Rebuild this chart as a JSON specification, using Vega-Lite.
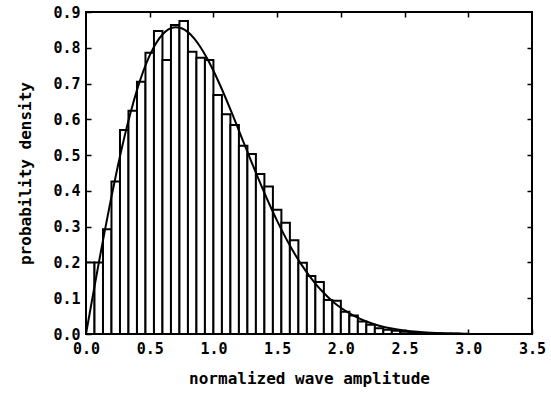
{
  "$schema": "https://vega.github.io/schema/vega-lite/v6.json",
  "width": 446,
  "height": 322,
  "autosize": {"type": "none"},
  "padding": {"left": 86, "top": 12, "right": 19, "bottom": 73},
  "background": "white",
  "config": {
    "view": {"stroke": "black", "strokeWidth": 2},
    "axis": {
      "grid": false,
      "domain": false,
      "tickColor": "black",
      "tickWidth": 1.5,
      "tickSize": -5,
      "labelFlush": false,
      "labelOverlap": false,
      "labelFont": "DejaVu Sans Mono",
      "labelFontWeight": "bold",
      "labelFontSize": 15,
      "labelColor": "black",
      "titleFont": "DejaVu Sans Mono",
      "titleFontWeight": "bold",
      "titleFontSize": 16,
      "titleColor": "black"
    }
  },
  "datasets": {
    "bars": [
      {"x0": 0.0, "x1": 0.0667, "density": 0.2},
      {"x0": 0.0667, "x1": 0.1333, "density": 0.2},
      {"x0": 0.1333, "x1": 0.2, "density": 0.293},
      {"x0": 0.2, "x1": 0.2667, "density": 0.426},
      {"x0": 0.2667, "x1": 0.3333, "density": 0.57},
      {"x0": 0.3333, "x1": 0.4, "density": 0.624},
      {"x0": 0.4, "x1": 0.4667, "density": 0.705},
      {"x0": 0.4667, "x1": 0.5333, "density": 0.786},
      {"x0": 0.5333, "x1": 0.6, "density": 0.847},
      {"x0": 0.6, "x1": 0.6667, "density": 0.766},
      {"x0": 0.6667, "x1": 0.7333, "density": 0.864},
      {"x0": 0.7333, "x1": 0.8, "density": 0.875},
      {"x0": 0.8, "x1": 0.8667, "density": 0.789},
      {"x0": 0.8667, "x1": 0.9333, "density": 0.772},
      {"x0": 0.9333, "x1": 1.0, "density": 0.766},
      {"x0": 1.0, "x1": 1.0667, "density": 0.668},
      {"x0": 1.0667, "x1": 1.1333, "density": 0.614},
      {"x0": 1.1333, "x1": 1.2, "density": 0.584},
      {"x0": 1.2, "x1": 1.2667, "density": 0.526},
      {"x0": 1.2667, "x1": 1.3333, "density": 0.503},
      {"x0": 1.3333, "x1": 1.4, "density": 0.447},
      {"x0": 1.4, "x1": 1.4667, "density": 0.412},
      {"x0": 1.4667, "x1": 1.5333, "density": 0.347},
      {"x0": 1.5333, "x1": 1.6, "density": 0.311},
      {"x0": 1.6, "x1": 1.6667, "density": 0.262},
      {"x0": 1.6667, "x1": 1.7333, "density": 0.199},
      {"x0": 1.7333, "x1": 1.8, "density": 0.162},
      {"x0": 1.8, "x1": 1.8667, "density": 0.145},
      {"x0": 1.8667, "x1": 1.9333, "density": 0.095},
      {"x0": 1.9333, "x1": 2.0, "density": 0.093},
      {"x0": 2.0, "x1": 2.0667, "density": 0.062},
      {"x0": 2.0667, "x1": 2.1333, "density": 0.052},
      {"x0": 2.1333, "x1": 2.2, "density": 0.035},
      {"x0": 2.2, "x1": 2.2667, "density": 0.026},
      {"x0": 2.2667, "x1": 2.3333, "density": 0.016},
      {"x0": 2.3333, "x1": 2.4, "density": 0.012},
      {"x0": 2.4, "x1": 2.4667, "density": 0.009},
      {"x0": 2.4667, "x1": 2.5333, "density": 0.006},
      {"x0": 2.5333, "x1": 2.6, "density": 0.004},
      {"x0": 2.6, "x1": 2.6667, "density": 0.003},
      {"x0": 2.6667, "x1": 2.7333, "density": 0.002},
      {"x0": 2.7333, "x1": 2.8, "density": 0.0015},
      {"x0": 2.8, "x1": 2.8667, "density": 0.001},
      {"x0": 2.8667, "x1": 2.9333, "density": 0.001}
    ],
    "curve": [
      {"x": 0.0, "y": 0.0},
      {"x": 0.05, "y": 0.0998},
      {"x": 0.1, "y": 0.198},
      {"x": 0.15, "y": 0.2933},
      {"x": 0.2, "y": 0.3843},
      {"x": 0.25, "y": 0.4697},
      {"x": 0.3, "y": 0.5483},
      {"x": 0.35, "y": 0.6193},
      {"x": 0.4, "y": 0.6817},
      {"x": 0.45, "y": 0.7351},
      {"x": 0.5, "y": 0.7788},
      {"x": 0.55, "y": 0.8129},
      {"x": 0.6, "y": 0.8372},
      {"x": 0.65, "y": 0.852},
      {"x": 0.7, "y": 0.8577},
      {"x": 0.75, "y": 0.8547},
      {"x": 0.8, "y": 0.8437},
      {"x": 0.85, "y": 0.8255},
      {"x": 0.9, "y": 0.8008},
      {"x": 0.95, "y": 0.7706},
      {"x": 1.0, "y": 0.7358},
      {"x": 1.05, "y": 0.6974},
      {"x": 1.1, "y": 0.6561},
      {"x": 1.15, "y": 0.6129},
      {"x": 1.2, "y": 0.5686},
      {"x": 1.25, "y": 0.524},
      {"x": 1.3, "y": 0.4797},
      {"x": 1.35, "y": 0.4363},
      {"x": 1.4, "y": 0.3944},
      {"x": 1.45, "y": 0.3542},
      {"x": 1.5, "y": 0.3162},
      {"x": 1.55, "y": 0.2805},
      {"x": 1.6, "y": 0.2474},
      {"x": 1.65, "y": 0.2168},
      {"x": 1.7, "y": 0.1889},
      {"x": 1.75, "y": 0.1637},
      {"x": 1.8, "y": 0.141},
      {"x": 1.85, "y": 0.1208},
      {"x": 1.9, "y": 0.1028},
      {"x": 1.95, "y": 0.0869},
      {"x": 2.0, "y": 0.0733},
      {"x": 2.1, "y": 0.0511},
      {"x": 2.2, "y": 0.0348},
      {"x": 2.3, "y": 0.0232},
      {"x": 2.4, "y": 0.0151},
      {"x": 2.5, "y": 0.0097},
      {"x": 2.6, "y": 0.006},
      {"x": 2.7, "y": 0.0037},
      {"x": 2.8, "y": 0.0022},
      {"x": 2.9, "y": 0.0013},
      {"x": 3.0, "y": 0.0007}
    ]
  },
  "layer": [
    {
      "data": {"name": "bars"},
      "mark": {"type": "rect", "fill": "white", "stroke": "black", "strokeWidth": 2},
      "encoding": {
        "x": {
          "field": "x0", "type": "quantitative",
          "scale": {"domain": [0, 3.5], "nice": false, "zero": false},
          "axis": {"orient": "bottom", "values": [0, 0.5, 1, 1.5, 2, 2.5, 3, 3.5], "format": ".1f", "labelPadding": 12, "title": "normalized wave amplitude", "titlePadding": 14}
        },
        "x2": {"field": "x1"},
        "y": {
          "field": "density", "type": "quantitative",
          "scale": {"domain": [0, 0.9], "nice": false},
          "axis": {"orient": "left", "values": [0, 0.1, 0.2, 0.3, 0.4, 0.5, 0.6, 0.7, 0.8, 0.9], "format": ".1f", "labelPadding": 11, "title": "probability density", "titlePadding": 19}
        },
        "y2": {"datum": 0}
      }
    },
    {
      "data": {"name": "curve"},
      "mark": {"type": "line", "color": "black", "strokeWidth": 2, "interpolate": "monotone"},
      "encoding": {
        "x": {
          "field": "x", "type": "quantitative",
          "axis": {"orient": "top", "values": [0.5, 1, 1.5, 2, 2.5, 3], "labels": false, "title": null}
        },
        "y": {
          "field": "y", "type": "quantitative",
          "axis": {"orient": "right", "values": [0.1, 0.2, 0.3, 0.4, 0.5, 0.6, 0.7, 0.8], "labels": false, "title": null}
        }
      }
    }
  ],
  "resolve": {"axis": {"x": "independent", "y": "independent"}}
}
